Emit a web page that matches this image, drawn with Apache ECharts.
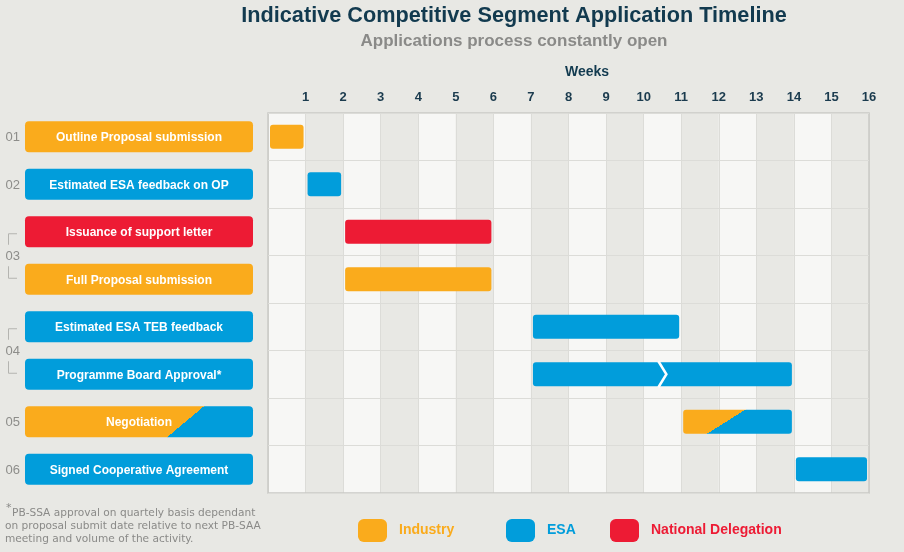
<!DOCTYPE html>
<html>
<head>
<meta charset="utf-8">
<script src="https://cdn.jsdelivr.net/npm/echarts@6/dist/echarts.min.js"></script>
<style>
  html, body { margin: 0; padding: 0; background: #e8e8e4; }
  #main { width: 904px; height: 552px; }
</style>
</head>
<body>
<div id="main"></div>
<script>
// task rows, top to bottom
var tasks = ['Outline Proposal submission', 'Estimated ESA feedback on OP', 'Issuance of support letter',
    'Full Proposal submission', 'Estimated ESA TEB feedback', 'Programme Board Approval*',
    'Negotiation', 'Signed Cooperative Agreement'];
var startWeek = [0, 1, 2, 2, 7, 7, 11, 14];
var endWeek = [1, 2, 6, 6, 11, 14, 14, 16];
var owner = ['Industry', 'ESA', 'National Delegation', 'Industry', 'ESA', 'ESA', 'Industry/ESA', 'ESA'];
var breakWeek = [null, null, null, null, null, 10.5, null, null];

// step numbers on the left
var stepLabels = ['01', '02', '03', '04', '05', '06'];
var stepFirstRow = [0, 1, 2, 4, 6, 7];
var stepLastRow = [0, 1, 3, 5, 6, 7];

var weeks = ['1', '2', '3', '4', '5', '6', '7', '8', '9', '10', '11', '12', '13', '14', '15', '16'];

var colors = {
    'Industry': '#faab1c',
    'ESA': '#019ddb',
    'National Delegation': '#ed1b34'
};

var font = '"Liberation Sans", Arial, sans-serif';
var noteFont = '10.6px "DejaVu Sans", Verdana, sans-serif';

// hard diagonal split orange -> blue
function splitFill(x, y, w, h, ft, fb) {
    var xt = x + ft * w, xb = x + fb * w;
    var mx = (xt + xb) / 2, my = y + h / 2;
    var nx = h, ny = xt - xb;
    return {
        type: 'linear', global: true,
        x: mx - nx, y: my - ny, x2: mx + nx, y2: my + ny,
        colorStops: [
            {offset: 0, color: colors['Industry']}, {offset: 0.5, color: colors['Industry']},
            {offset: 0.5, color: colors['ESA']}, {offset: 1, color: colors['ESA']}
        ]
    };
}

function renderBar(params, api) {
    var row = api.value(0);
    var p0 = api.coord([api.value(1), row]);
    var p1 = api.coord([api.value(2), row]);
    var h = 24;
    var x = p0[0] + 2, y = p0[1] - h / 2, w = p1[0] - p0[0] - 4;
    var who = owner[row];
    var fill = who === 'Industry/ESA' ? splitFill(x, y, w, h, 0.57, 0.22) : colors[who];
    var children = [{
        type: 'rect',
        shape: {x: x, y: y, width: w, height: h, r: 3},
        style: {fill: fill}
    }];
    if (breakWeek[row] != null) {
        var bx = api.coord([breakWeek[row], row])[0];
        children.push({
            type: 'polyline',
            shape: {points: [[bx - 4, y - 1], [bx + 4, y + h / 2], [bx - 4, y + h + 1]]},
            style: {stroke: '#ffffff', lineWidth: 2.5, fill: null}
        });
    }
    return {type: 'group', children: children};
}

function renderBox(params, api) {
    var row = api.value(0);
    var p0 = api.coord([0, row]);
    var p1 = api.coord([1, row]);
    var h = 31;
    var x = p0[0], y = p0[1] - h / 2, w = p1[0] - p0[0];
    var who = owner[row];
    var fill = who === 'Industry/ESA' ? splitFill(x, y, w, h, 0.785, 0.623) : colors[who];
    return {
        type: 'group',
        children: [{
            type: 'rect',
            shape: {x: x, y: y, width: w, height: h, r: 4},
            style: {fill: fill}
        }, {
            type: 'text',
            style: {
                text: tasks[row], x: x + w / 2, y: p0[1] + 1,
                align: 'center', verticalAlign: 'middle',
                fill: '#ffffff', font: 'bold 12px ' + font
            }
        }]
    };
}

function renderStep(params, api) {
    var i = params.dataIndex;
    var a = api.coord([0, stepFirstRow[i]]);
    var b = api.coord([0, stepLastRow[i]]);
    var cy = (a[1] + b[1]) / 2;
    var children = [{
        type: 'text',
        style: {
            text: stepLabels[i], x: a[0] - 5, y: cy + 1,
            align: 'right', verticalAlign: 'middle',
            fill: '#8d8d8a', font: '13px ' + font
        }
    }];
    if (stepFirstRow[i] !== stepLastRow[i]) {
        var bl = {stroke: '#b4b4b0', lineWidth: 1, fill: null};
        children.push({
            type: 'polyline',
            shape: {points: [[17, a[1] + 2], [8.5, a[1] + 2], [8.5, a[1] + 13]]},
            style: bl
        });
        children.push({
            type: 'polyline',
            shape: {points: [[8.5, b[1] - 13], [8.5, b[1] - 1], [17, b[1] - 1]]},
            style: bl
        });
    }
    return {type: 'group', children: children};
}

function rowsOf(who) {
    var out = [];
    for (var i = 0; i < tasks.length; i++) {
        if (owner[i] === who) out.push([i, startWeek[i], endWeek[i]]);
    }
    return out;
}

function barSeries(name, who) {
    return {
        type: 'custom', name: name,
        xAxisIndex: 0, yAxisIndex: 0,
        renderItem: renderBar,
        encode: {x: [1, 2], y: 0},
        itemStyle: {color: colors[who] || colors['ESA']},
        clip: false,
        silent: true,
        data: rowsOf(who)
    };
}

function legendItem(name, left) {
    return {
        data: [name], left: left, top: 519, padding: 0,
        icon: 'roundRect', itemWidth: 29, itemHeight: 23,
        selectedMode: false,
        textStyle: {color: colors[name], fontWeight: 'bold', fontSize: 14, fontFamily: font, padding: [3, 0, 0, 7]}
    };
}

var chart = echarts.init(document.getElementById('main'));
var option = {
    backgroundColor: '#e8e8e4',
    animation: false,
    graphic: [
        {type: 'text', x: 514, y: 5, style: {text: 'Indicative Competitive Segment Application Timeline', align: 'center', fill: '#123a4f', font: 'bold 21.7px ' + font}},
        {type: 'text', x: 514, y: 33, style: {text: 'Applications process constantly open', align: 'center', fill: '#8a8a88', font: 'bold 17px ' + font}},
        {type: 'text', x: 6, y: 508, style: {text: '*', verticalAlign: 'middle', fill: '#8a8a88', font: '11px "DejaVu Sans", Verdana, sans-serif'}},
        {type: 'text', x: 12, y: 513, style: {text: 'PB-SSA approval on quartely basis dependant', verticalAlign: 'middle', fill: '#8a8a88', font: noteFont}},
        {type: 'text', x: 5, y: 526.3, style: {text: 'on proposal submit date relative to next PB-SAA', verticalAlign: 'middle', fill: '#8a8a88', font: noteFont}},
        {type: 'text', x: 5, y: 539.6, style: {text: 'meeting and volume of the activity.', verticalAlign: 'middle', fill: '#8a8a88', font: noteFont}}
    ],
    legend: [
        legendItem('Industry', 358),
        legendItem('ESA', 506),
        legendItem('National Delegation', 610)
    ],
    grid: [
        {left: 268, right: 35, top: 113, bottom: 59, show: true, z: 1, borderColor: '#c9c9c5', borderWidth: 1.5, backgroundColor: 'transparent'},
        {left: 25, width: 228, top: 113, bottom: 59}
    ],
    xAxis: [{
        gridIndex: 0, type: 'value', position: 'top',
        min: 0, max: 16, interval: 1,
        name: 'Weeks', nameLocation: 'middle', nameGap: 34,
        nameTextStyle: {color: '#123a4f', fontWeight: 'bold', fontSize: 14, fontFamily: font, padding: [0, 0, 0, 37]},
        axisLine: {show: false}, axisTick: {show: false},
        axisLabel: {
            margin: 9, color: '#1b3b4e', fontWeight: 'bold', fontSize: 13, fontFamily: font,
            formatter: function (v) { return v > 0 ? weeks[v - 1] : ''; }
        },
        splitLine: {show: true, lineStyle: {color: '#dcdcd8', width: 1}},
        splitArea: {show: true, areaStyle: {color: ['#f7f7f5', '#e8e8e4']}}
    }, {
        gridIndex: 1, type: 'value', min: 0, max: 1, show: false
    }],
    yAxis: [{
        gridIndex: 0, type: 'category', data: tasks, inverse: true, z: 1,
        axisLine: {show: false}, axisTick: {show: false}, axisLabel: {show: false},
        splitLine: {show: true, lineStyle: {color: '#dcdcd8', width: 1}}
    }, {
        gridIndex: 1, type: 'category', data: tasks, inverse: true, show: false
    }],
    series: [
        barSeries('Industry', 'Industry'),
        barSeries('ESA', 'ESA'),
        barSeries('National Delegation', 'National Delegation'),
        barSeries('Industry / ESA', 'Industry/ESA'),
        {
            type: 'custom', xAxisIndex: 1, yAxisIndex: 1,
            renderItem: renderBox, clip: false, silent: true,
            encode: {x: 1, y: 0},
            data: tasks.map(function (t, i) { return [i, 0]; })
        },
        {
            type: 'custom', xAxisIndex: 1, yAxisIndex: 1,
            renderItem: renderStep, clip: false, silent: true,
            encode: {x: 1, y: 0},
            data: stepLabels.map(function (s, i) { return [stepFirstRow[i], 0]; })
        }
    ]
};
chart.setOption(option);
</script>
</body>
</html>
